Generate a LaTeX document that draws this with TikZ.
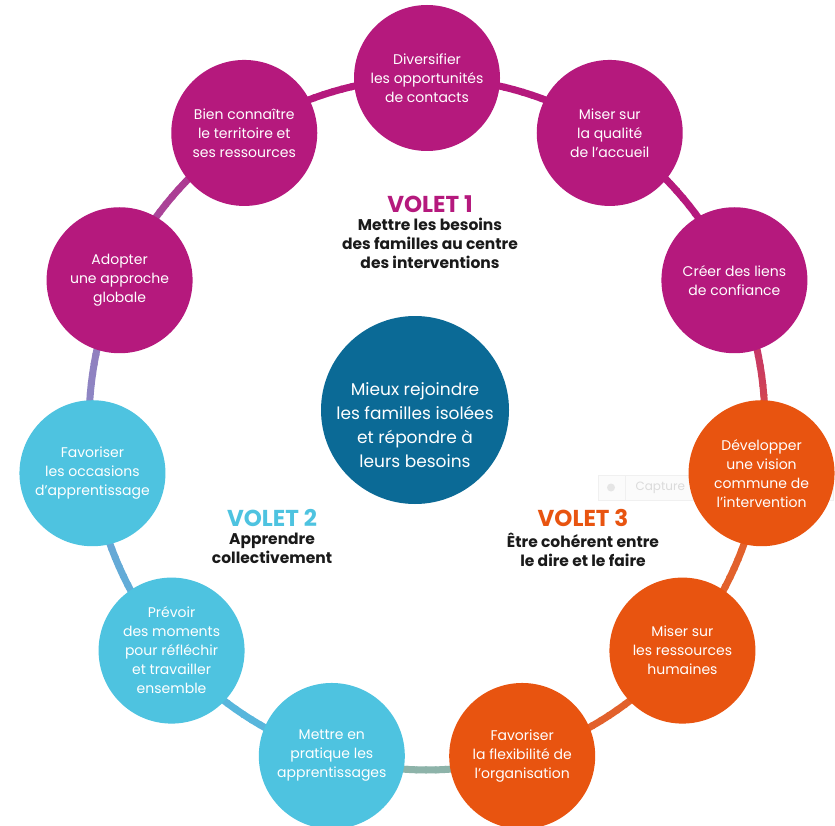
\documentclass[tikz,border=0pt]{standalone}
\usepackage{fontspec}
\setmainfont{Poppins}
\usetikzlibrary{calc}
\definecolor{mag}{HTML}{B5197D}
\definecolor{org}{HTML}{E85410}
\definecolor{blu}{HTML}{4EC3E0}
\definecolor{ctr}{HTML}{0B6A96}
\definecolor{txt}{HTML}{1A1A1A}
\definecolor{segA}{HTML}{B8247F}
\definecolor{segB}{HTML}{E0573A}
\definecolor{segG}{HTML}{8DB3A9}
\definecolor{segP1}{HTML}{8A8FCB}
\definecolor{segP2}{HTML}{9477B8}
\definecolor{segM1}{HTML}{A555A4}
\definecolor{segM2}{HTML}{B12A86}
\definecolor{segO}{HTML}{E2612C}
\definecolor{segBl}{HTML}{58B6DC}
\definecolor{segBl2}{HTML}{6F9FD2}
\newcommand\ringseg[3]{%
  \pgfmathsetmacro\sa{-90+32.7273*#1}%
  \foreach \i in {0,...,19}{%
    \pgfmathsetmacro\aa{\sa+32.7273*\i/20}%
    \pgfmathsetmacro\bb{\sa+32.7273*(\i+1)/20+0.3}%
    \pgfmathtruncatemacro\pp{100-100*\i/19}%
    \draw[ringline, color=#2!\pp!#3] ($(C)+(\aa:338 and 346)$) arc[start angle=\aa, end angle=\bb, x radius=338, y radius=346];
  }}
\newcommand\onring[1]{($(C)+(#1:338 and 346)$)}
\begin{document}
\begin{tikzpicture}[x=1pt,y=-1pt,
  ringline/.style={line width=7pt, line cap=butt},
  bub/.style={circle, minimum size=146pt, inner sep=0pt, align=center, text=white,
     font=\fontsize{14}{19}\selectfont},
  volet/.style={align=center, font=\fontsize{23}{24}\selectfont\bfseries},
  sub/.style={align=center, text=txt, font=\fontsize{15.5}{19}\selectfont\bfseries}]
\useasboundingbox (0,0) rectangle (835,826);
\fill[white] (0,0) rectangle (835,826);
\coordinate (C) at (427,424);
% tooltip artifact
\draw[gray!12, fill=gray!3] (598,475) rectangle (833,500);
\draw[gray!12] (625,475) -- (625,500);
\fill[gray!20] (611,487.5) circle (4);
\node[anchor=west, text=gray!28, font=\fontsize{12}{14}\selectfont] (tip) at (632,487.5) {Capture};
% ring
\ringseg{0}{mag}{mag}
\ringseg{1}{mag}{mag}
\ringseg{2}{segA}{segB}
\ringseg{3}{segO}{segO}
\ringseg{4}{segO}{segO}
\ringseg{5}{segG}{segG}
\ringseg{6}{segBl}{segBl}
\ringseg{7}{segBl}{segBl2}
\ringseg{8}{segP1}{segP2}
\ringseg{9}{segM1}{segM2}
\ringseg{10}{mag}{mag}
% bubbles
\node[bub, fill=mag] (n0) at \onring{-90} {Diversifier\\les opportunités\\de contacts};
\node[bub, fill=mag] (n1) at \onring{-57.27} {Miser sur\\la qualité\\de l'accueil};
\node[bub, fill=mag] (n2) at \onring{-24.55} {Créer des liens\\de confiance};
\node[bub, fill=org] (n3) at \onring{8.18} {Développer\\une vision\\commune de\\l'intervention};
\node[bub, fill=org] (n4) at \onring{40.91} {Miser sur\\les ressources\\humaines};
\node[bub, fill=org] (n5) at \onring{73.64} {Favoriser\\la flexibilité de\\l'organisation};
\node[bub, fill=blu] (n6) at \onring{106.36} {Mettre en\\pratique les\\apprentissages};
\node[bub, fill=blu] (n7) at \onring{139.09} {Prévoir\\des moments\\pour réfléchir\\et travailler\\ensemble};
\node[bub, fill=blu] (n8) at \onring{171.82} {Favoriser\\les occasions\\d'apprentissage};
\node[bub, fill=mag] (n9) at \onring{204.55} {Adopter\\une approche\\globale};
\node[bub, fill=mag] (n10) at \onring{237.27} {Bien connaître\\le territoire et\\ses ressources};
% centre
\node[circle, fill=ctr, minimum size=188pt, inner sep=0pt] (mid) at (415,410) {};
\node[align=center, text=white, font=\fontsize{17}{24}\selectfont] (midt) at (415,425) {Mieux rejoindre\\les familles isolées\\et répondre à\\leurs besoins};
% volets
\node[volet, text=mag] (v1) at (430,204) {VOLET 1};
\node[sub, anchor=north] (s1) at (430,215) {Mettre les besoins\\des familles au centre\\des interventions};
\node[volet, text=blu] (v2) at (272,518) {VOLET 2};
\node[sub, anchor=north] (s2) at (272,529) {Apprendre\\collectivement};
\node[volet, text=org] (v3) at (583,518) {VOLET 3};
\node[sub, anchor=north] (s3) at (583,529) {Être cohérent entre\\le dire et le faire};
\end{tikzpicture}
\end{document}
